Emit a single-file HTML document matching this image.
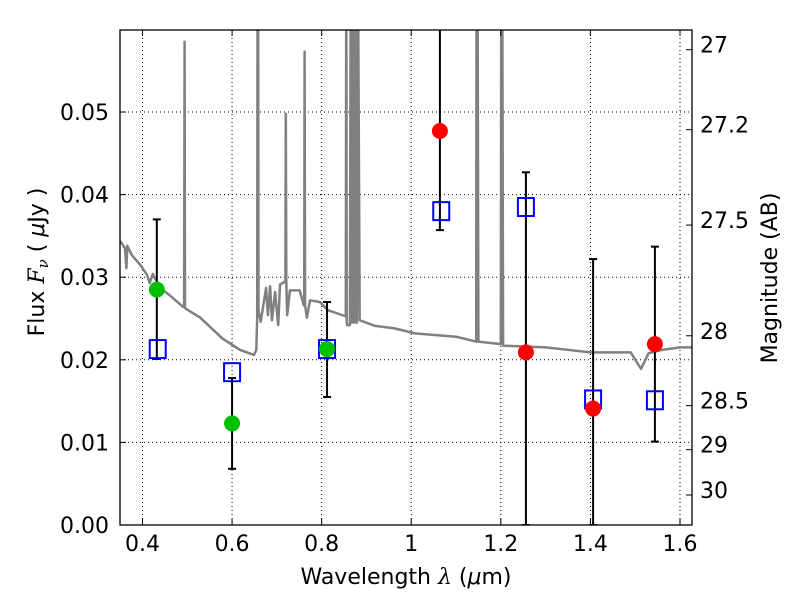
<!DOCTYPE html>
<html><head><meta charset="utf-8"><style>
body{margin:0;background:#fff;}
svg{display:block;font-family:"DejaVu Sans","Liberation Sans",sans-serif;}
</style></head><body>
<svg id="chart" width="800" height="600"></svg>
<script>
const specLam=[0.350,0.361,0.364,0.366,0.376,0.395,0.410,0.416,0.423,0.439,0.461,0.491,0.493,0.494,0.495,0.496,0.529,0.578,0.618,0.649,0.654,0.656,0.657,0.658,0.659,0.664,0.676,0.680,0.685,0.689,0.696,0.703,0.707,0.716,0.719,0.720,0.721,0.723,0.729,0.751,0.760,0.761,0.762,0.763,0.767,0.774,0.796,0.814,0.852,0.854,0.855,0.856,0.857,0.863,0.865,0.867,0.869,0.871,0.873,0.875,0.877,0.879,0.881,0.885,0.919,0.963,1.008,1.10,1.145,1.146,1.148,1.150,1.20,1.201,1.203,1.205,1.21,1.30,1.40,1.49,1.513,1.53,1.56,1.60,1.63];
const specFlux=[0.0344,0.0335,0.0311,0.0338,0.0327,0.0315,0.0303,0.0293,0.0304,0.0287,0.0278,0.0264,0.0264,0.0585,0.0264,0.0262,0.0251,0.0226,0.0212,0.0206,0.0212,0.0251,0.07,0.07,0.026,0.0246,0.0287,0.0254,0.0289,0.0248,0.0282,0.0242,0.0291,0.0294,0.0294,0.0498,0.0294,0.0254,0.0284,0.0284,0.0266,0.0266,0.0573,0.0266,0.0251,0.0272,0.0270,0.0260,0.0253,0.0253,0.07,0.0245,0.0242,0.0242,0.07,0.0245,0.07,0.0245,0.07,0.0245,0.07,0.0245,0.07,0.0248,0.0241,0.0238,0.0232,0.0228,0.0222,0.07,0.07,0.0222,0.0219,0.07,0.07,0.0217,0.0217,0.0215,0.0209,0.0209,0.0189,0.0208,0.0212,0.0215,0.0215];
const greenLam=[0.432,0.600,0.812];
const greenFlux=[0.0285,0.0123,0.0213];
const greenLo=[0.0201,0.0068,0.0155];
const greenHi=[0.0370,0.0178,0.0270];
const redLam=[1.064,1.256,1.406,1.544];
const redFlux=[0.0477,0.0209,0.0141,0.0219];
const redLo=[0.0357,0.0,0.0,0.0101];
const redHi=[0.07,0.0427,0.0322,0.0337];
const sqLam=[0.434,0.600,0.812,1.067,1.256,1.406,1.544];
const sqFlux=[0.0213,0.0185,0.0213,0.0380,0.0385,0.0152,0.0151];
const xTicks=[0.4,0.6,0.8,1.0,1.2,1.4,1.6];
const xTickLabels=["0.4","0.6","0.8","1","1.2","1.4","1.6"];
const yTicks=[0,0.01,0.02,0.03,0.04,0.05];
const yTickLabels=["0.00","0.01","0.02","0.03","0.04","0.05"];
const magTicks=[27,27.2,27.5,28,28.5,29,30];
const magLabels=["27","27.2","27.5","28","28.5","29","30"];

const L=120,R=692,T=30,B=525;
const X0=0.3498,X1=1.6268,Y0=0,Y1=0.05993;
const sx=v=>L+(v-X0)/(X1-X0)*(R-L);
const sy=v=>B-(v-Y0)/(Y1-Y0)*(B-T);
const NS="http://www.w3.org/2000/svg";
const svg=document.getElementById('chart');
function mk(tag,attrs,parent){const e=document.createElementNS(NS,tag);for(const k in attrs)e.setAttribute(k,attrs[k]);(parent||svg).appendChild(e);return e;}

const defs=mk('defs',{});
const cp=mk('clipPath',{id:'clip'},defs);
mk('rect',{x:L,y:T,width:R-L,height:B-T},cp);

xTicks.forEach(v=>{const g=mk('line',{x1:sx(v),x2:sx(v),y1:T,y2:B,stroke:'#000','stroke-width':1,'stroke-dasharray':'1,3'});

});
yTicks.slice(1).forEach(v=>{const g=mk('line',{x1:L,x2:R,y1:sy(v),y2:sy(v),stroke:'#000','stroke-width':1,'stroke-dasharray':'1,3'});

});

const gp=mk('g',{'clip-path':'url(#clip)'});
const d=specLam.map((l,i)=>(i?'L':'M')+sx(l).toFixed(1)+','+sy(specFlux[i]).toFixed(1)).join('');
const sp=mk('path',{d:d,fill:'none',stroke:'#808080','stroke-width':2.5,'stroke-linejoin':'round'},gp);



function errbar(x,lo,hi){
  const g=mk('g',{'clip-path':'url(#clip)'});
  
  
  const X=sx(x);
  mk('line',{x1:X,x2:X,y1:sy(lo),y2:sy(hi),stroke:'#000','stroke-width':2},g);
  mk('line',{x1:X-4,x2:X+4,y1:sy(lo),y2:sy(lo),stroke:'#000','stroke-width':2},g);
  mk('line',{x1:X-4,x2:X+4,y1:sy(hi),y2:sy(hi),stroke:'#000','stroke-width':2},g);
}
greenLam.forEach((l,i)=>errbar(l,greenLo[i],greenHi[i]));
redLam.forEach((l,i)=>errbar(l,redLo[i],redHi[i]));
sqLam.forEach((l,i)=>{const s=mk('rect',{x:sx(l)-8,y:sy(sqFlux[i])-9,width:16,height:18,fill:'none',stroke:'#0000ff','stroke-width':2});

});
greenLam.forEach((l,i)=>{const c=mk('circle',{cx:sx(l),cy:sy(greenFlux[i]),r:8,fill:'#00c000'});

});
redLam.forEach((l,i)=>{const c=mk('circle',{cx:sx(l),cy:sy(redFlux[i]),r:8,fill:'#ff0000'});

});

const fr=mk('rect',{x:L,y:T,width:R-L,height:B-T,fill:'none',stroke:'#000','stroke-width':1.3});



xTicks.forEach((v,i)=>{const X=sx(v);
  mk('line',{x1:X,x2:X,y1:B,y2:B-6,stroke:'#000'});mk('line',{x1:X,x2:X,y1:T,y2:T+6,stroke:'#000'});
  const t=mk('text',{x:X,y:B+26,'text-anchor':'middle','font-size':22});t.textContent=xTickLabels[i];
  
  });
yTicks.forEach((v,i)=>{const Y=sy(v);
  mk('line',{x1:L,x2:L+6,y1:Y,y2:Y,stroke:'#000'});
  const t=mk('text',{x:L-11,y:Y+8,'text-anchor':'end','font-size':22});t.textContent=yTickLabels[i];
  
  });
magTicks.forEach((m,i)=>{const Y=sy(Math.pow(10,(23.9-m)/2.5));
  mk('line',{x1:R,x2:R-6,y1:Y,y2:Y,stroke:'#000'});
  const t=mk('text',{x:R+8,y:Y+3,'text-anchor':'start','font-size':22});t.textContent=magLabels[i];
  
  });
</script>
<svg style="position:absolute;left:0;top:0" width="800" height="600">
<text x="406" y="584" text-anchor="middle" font-size="22" font-family="DejaVu Sans,sans-serif">Wavelength  <tspan font-style="italic" font-family="DejaVu Serif,serif">λ</tspan> (<tspan font-style="italic">μ</tspan>m)</text>
<text transform="translate(44,262) rotate(-90)" text-anchor="middle" font-size="22" font-family="DejaVu Sans,sans-serif">Flux  <tspan font-style="italic" font-family="DejaVu Serif,serif">F<tspan font-size="15" dy="4">ν</tspan></tspan><tspan dy="-4">  ( </tspan><tspan font-style="italic">μ</tspan>Jy )</text>
<text transform="translate(777,278) rotate(-90)" text-anchor="middle" font-size="22" font-family="DejaVu Sans,sans-serif">Magnitude (AB)</text>
</svg>
</body></html>
